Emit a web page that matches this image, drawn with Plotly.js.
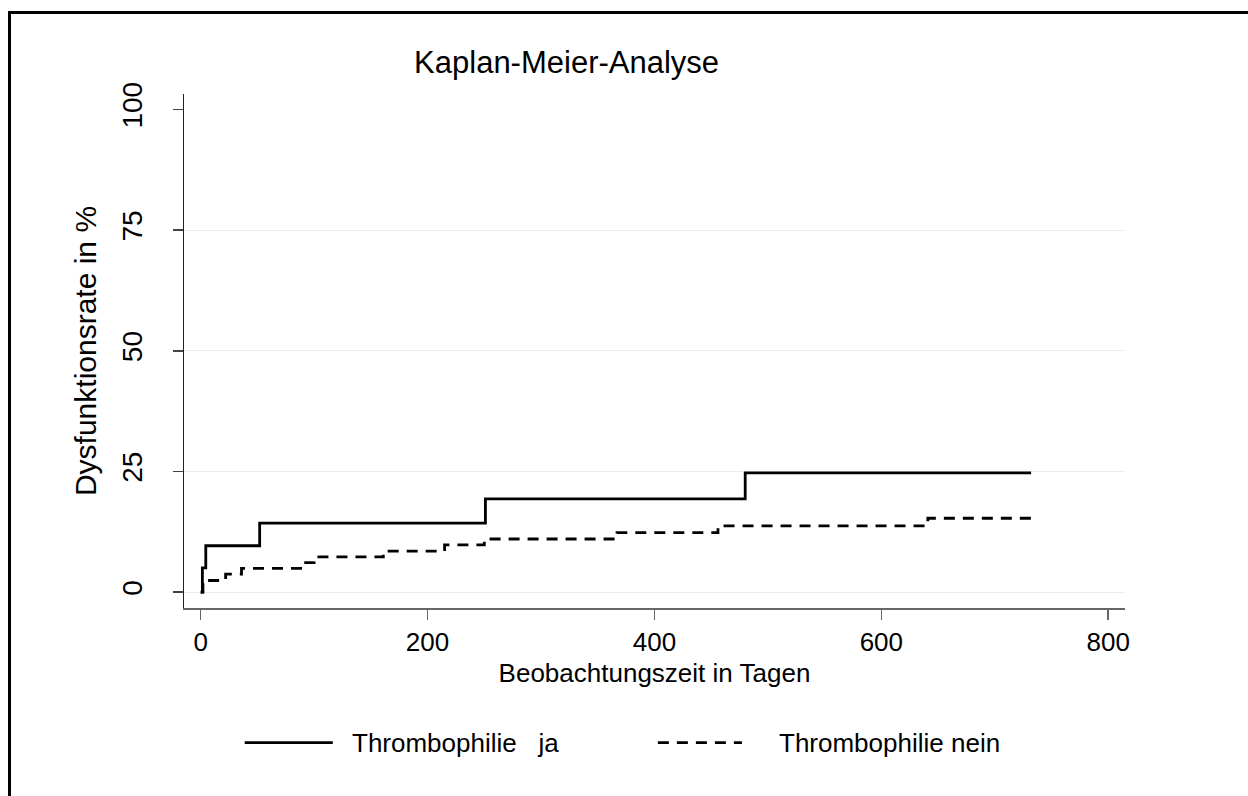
<!DOCTYPE html>
<html>
<head>
<meta charset="utf-8">
<script src="https://cdn.plot.ly/plotly-3.0.1.min.js"></script>
<style>
  html, body { margin: 0; padding: 0; background: #fff; }
  #wrap { position: relative; width: 1248px; height: 796px; overflow: hidden; }
  #chart { position: absolute; left: 0; top: 0; width: 1248px; height: 796px; }
  #frame { position: absolute; left: 8px; top: 11px; width: 1400px; height: 1000px;
           border-left: 3px solid #000; border-top: 3px solid #000; pointer-events: none; }
</style>
</head>
<body>
<div id="wrap">
  <div id="chart"></div>
  <div id="frame"></div>
</div>
<script>
// Data (Kaplan-Meier step curves, % dysfunction)
const daysJa = [0, 1.5, 4.5, 52, 251, 480, 732];
const rateJa = [0, 5.0, 9.6, 14.3, 19.3, 24.7, 24.7];

const daysNein = [0, 2, 22, 36, 90, 100, 161, 215, 250, 367, 456, 641, 732];
const rateNein = [0, 2.4, 3.7, 4.9, 6.1, 7.3, 8.5, 9.8, 11.0, 12.3, 13.7, 15.3, 15.3];

const seriesNames = ['Thrombophilie\u00a0\u00a0\u00a0ja', 'Thrombophilie nein'];
const xTicks = [0, 200, 400, 600, 800];
const yTicks = [0, 25, 50, 75, 100];
const yGrid = [0, 25, 50, 75];

const FONT = 'Arial, "Liberation Sans", sans-serif';

const traces = [
  { x: daysJa, y: rateJa, type: 'scatter', mode: 'lines', name: seriesNames[0],
    line: { shape: 'hv', color: '#000', width: 2.8 }, showlegend: false },
  { x: daysNein, y: rateNein, type: 'scatter', mode: 'lines', name: seriesNames[1],
    line: { shape: 'hv', color: '#000', width: 2.8, dash: '11px,8px' }, showlegend: false }
];

const legY = -0.262;
const layout = {
  width: 1248, height: 796,
  paper_bgcolor: '#fff', plot_bgcolor: '#fff',
  margin: { l: 184, r: 123, t: 94, b: 188 },
  font: { family: FONT, color: '#000', size: 26 },
  title: { text: 'Kaplan-Meier-Analyse', font: { family: FONT, size: 31, color: '#000' },
           xref: 'container', yref: 'container', x: 0.454, y: 0.922,
           xanchor: 'center', yanchor: 'middle' },
  xaxis: {
    range: [-14.7, 814.8], tickmode: 'array', tickvals: xTicks,
    showgrid: false, zeroline: false, showline: true, linecolor: '#666', linewidth: 1.5,
    ticks: 'outside', ticklen: 10, tickcolor: '#666', tickwidth: 1.5,
    tickfont: { size: 26 },
    title: { text: 'Beobachtungszeit in Tagen', font: { size: 26 }, standoff: 8 }
  },
  yaxis: {
    range: [-3.3, 103.2], tickmode: 'array', tickvals: yTicks,
    showgrid: false, zeroline: false, showline: true, linecolor: '#222', linewidth: 1.5,
    ticks: 'outside', ticklen: 10, tickcolor: '#444', tickwidth: 1.5,
    tickangle: -90, tickfont: { size: 28 }, ticklabelstandoff: 19,
    minor: { tickmode: 'array', tickvals: yGrid, showgrid: true, gridcolor: '#e6eff0', gridwidth: 1, ticks: '' },
    title: { text: 'Dysfunktionsrate in %', font: { size: 30 }, standoff: 12 }
  },
  shapes: [
    { type: 'line', xref: 'paper', yref: 'paper', x0: 0.0645, x1: 0.1581, y0: legY, y1: legY,
      line: { color: '#000', width: 2.8 } },
    { type: 'line', xref: 'paper', yref: 'paper', x0: 0.5036, x1: 0.5929, y0: legY, y1: legY,
      line: { color: '#000', width: 2.8, dash: '11px,8px' } }
  ],
  annotations: [
    { xref: 'paper', yref: 'paper', x: 0.1761, y: legY, xanchor: 'left', yanchor: 'middle',
      text: seriesNames[0], showarrow: false, font: { size: 26, color: '#000' } },
    { xref: 'paper', yref: 'paper', x: 0.6299, y: legY, xanchor: 'left', yanchor: 'middle',
      text: seriesNames[1], showarrow: false, font: { size: 26, color: '#000' } }
  ]
};

Plotly.newPlot('chart', traces, layout, { displayModeBar: false, staticPlot: true });
</script>
</body>
</html>
